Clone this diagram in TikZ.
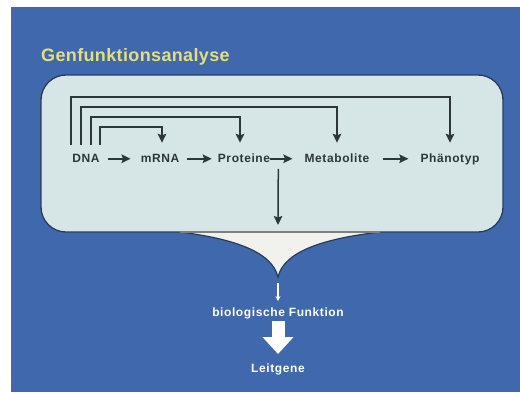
\documentclass[tikz,border=0pt]{standalone}
\usepackage{fontspec}
\setmainfont{Liberation Sans}
\usetikzlibrary{arrows.meta}
\definecolor{slideblue}{RGB}{64,104,172}
\definecolor{boxfill}{RGB}{214,230,230}
\definecolor{boxedge}{RGB}{40,58,88}
\definecolor{funnelfill}{RGB}{241,242,237}
\definecolor{linedark}{RGB}{45,55,55}
\definecolor{titleyellow}{RGB}{230,222,122}
\tikzset{
  rowtext/.style={font=\bfseries\fontsize{12}{14}\selectfont\addfontfeature{LetterSpace=5},
    text=linedark, inner sep=0pt, anchor=base, text height=9pt, text depth=2.5pt},
  conn/.style={draw=linedark, line width=1.8pt, -{Stealth[length=9pt,width=8.5pt,inset=1.5pt]}},
  whitetext/.style={font=\bfseries\fontsize{12}{14}\selectfont\addfontfeature{LetterSpace=5},
    text=white, inner sep=0pt, anchor=base},
}
\begin{document}
\begin{tikzpicture}[x=1pt,y=-1pt]
\useasboundingbox (0,0) rectangle (520,392);
\fill[white] (0,0) rectangle (520,392);
\fill[slideblue] (11,7) rectangle (520,392);

% title
\node[anchor=base west, inner sep=0pt, text=titleyellow,
  font=\bfseries\fontsize{18}{20}\selectfont\addfontfeature{LetterSpace=2}] (title) at (41,61) {Genfunktionsanalyse};

% light box
\draw[fill=boxfill, draw=boxedge, line width=1.3pt, rounded corners=25pt] (41,75) rectangle (503,232);

% funnel
\coordinate (ftop) at (278,232);
\coordinate (ftip) at (278,277);
\draw[fill=funnelfill, draw=boxedge, line width=1.2pt]
  (180,232) .. controls (235,239) and (272,252) .. (ftip)
  .. controls (284,252) and (321,239) .. (380,232);
\draw[draw=gray, line width=1.2pt] (180,232) -- (380,232);

% row nodes
\node[rowtext] (dna)  at (86,162)  {DNA};
\node[rowtext] (mrna) at (160,162) {mRNA};
\node[rowtext] (prot) at (244,162) {Proteine};
\node[rowtext] (meta) at (337,162) {Metabolite};
\node[rowtext] (phen) at (450,162) {Phänotyp};

% row arrows
\draw[conn] ([xshift=8pt]dna.east) -- ([xshift=-10pt]mrna.west);
\draw[conn] ([xshift=8pt]mrna.east) -- ([xshift=-6pt]prot.west);
\draw[conn] (prot.east) -- ([xshift=-12pt]meta.west);
\draw[conn] ([xshift=13pt]meta.east) -- ([xshift=-12pt]phen.west);

% DNA feedback connectors
\draw[conn] ([xshift=-15pt,yshift=8pt]dna.north) -- ++(0,-48) -| ([yshift=10pt]phen.north);
\draw[conn] ([xshift=-5pt,yshift=8pt]dna.north) -- ++(0,-38) -| ([yshift=10pt]meta.north);
\draw[conn] ([xshift=5pt,yshift=8pt]dna.north) -- ++(0,-28) -| ([xshift=-4pt,yshift=10pt]prot.north);
\draw[conn] ([xshift=14pt,yshift=8pt]dna.north) -- ++(0,-18) -| ([xshift=2pt,yshift=10pt]mrna.north);

% down arrow into funnel
\coordinate (pm) at ([xshift=8pt]prot.east);
\draw[conn, line width=1.5pt] ([yshift=-10pt]pm) -- ([yshift=7pt]ftop);

% lower part
\node[whitetext] (bio) at (278,316) {biologische Funktion};
\node[whitetext] (leit) at (278,372) {Leitgene};
\draw[white, line width=1.2pt, -{Stealth[length=5pt,width=5pt]}] ([yshift=-6pt]ftip) -- ([yshift=15pt]bio.base);
\draw[white, line width=13pt, -{Triangle[length=17pt,width=30pt]}] ([yshift=-5pt]bio.base) -- ([yshift=18pt]leit.base);
\end{tikzpicture}
\end{document}
